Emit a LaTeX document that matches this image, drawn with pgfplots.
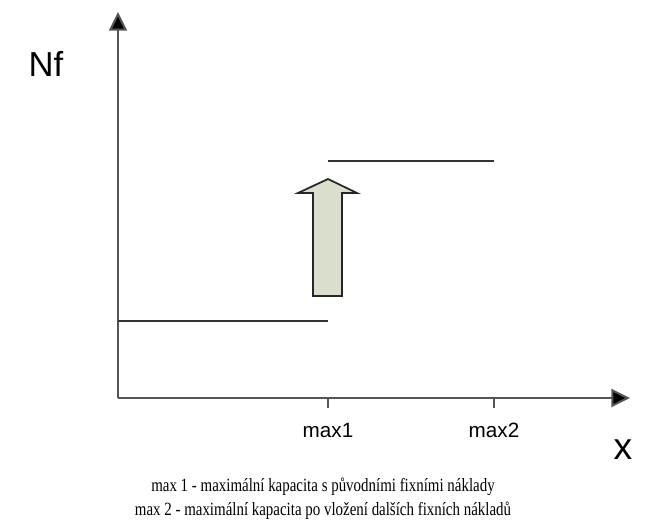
\documentclass[border=0pt]{standalone}
\usepackage{fontspec}
\setmainfont{Liberation Serif}
\newfontfamily\arial{Liberation Sans}
\usepackage{pgfplots}
\pgfplotsset{compat=1.18}
\usetikzlibrary{arrows.meta}
\definecolor{arrowfill}{RGB}{218,222,204}
\definecolor{axgray}{RGB}{85,85,85}
\begin{document}
\begin{tikzpicture}
\begin{axis}[
  x=0.75pt, y=0.75pt,
  xmin=0, xmax=512, ymin=0, ymax=386,
  axis lines=left,
  axis line style={axgray, line width=1.5pt, -{Triangle[length=14pt,width=13.5pt,fill=black]}},
  xtick={210,376}, xticklabels={max1,max2},
  ytick=\empty,
  tick align=outside,
  major tick length=7.5pt,
  tick style={axgray, line width=1.2pt},
  xticklabel style={font=\arial\fontsize{15.5}{18}\selectfont, yshift=-8pt},
  clip=false,
]
\addplot[black!80, line width=1.4pt] coordinates {(0,77) (210,77)};
\addplot[black!80, line width=1.4pt] coordinates {(210,237) (376,237)};
\addplot[draw=black!85, line width=1.3pt, fill=arrowfill] coordinates {
  (195,102) (224,102) (224,205) (239,205) (210,219) (180,205) (195,205) (195,102)} -- cycle;
\node[font=\arial\fontsize{26}{30}\selectfont] at (axis cs:-72,334) {Nf};
\node[font=\arial\fontsize{28}{30}\selectfont] at (axis cs:505,-52) {x};
\node[align=center, xscale=0.8, font=\fontsize{14}{18}\selectfont] at (axis cs:205,-101)
  {max 1 - maximální kapacita s původními fixními náklady\\max 2 - maximální kapacita po vložení dalších fixních nákladů};
\path (axis cs:-118,-131) rectangle (axis cs:528,398);
\end{axis}
\end{tikzpicture}
\end{document}
